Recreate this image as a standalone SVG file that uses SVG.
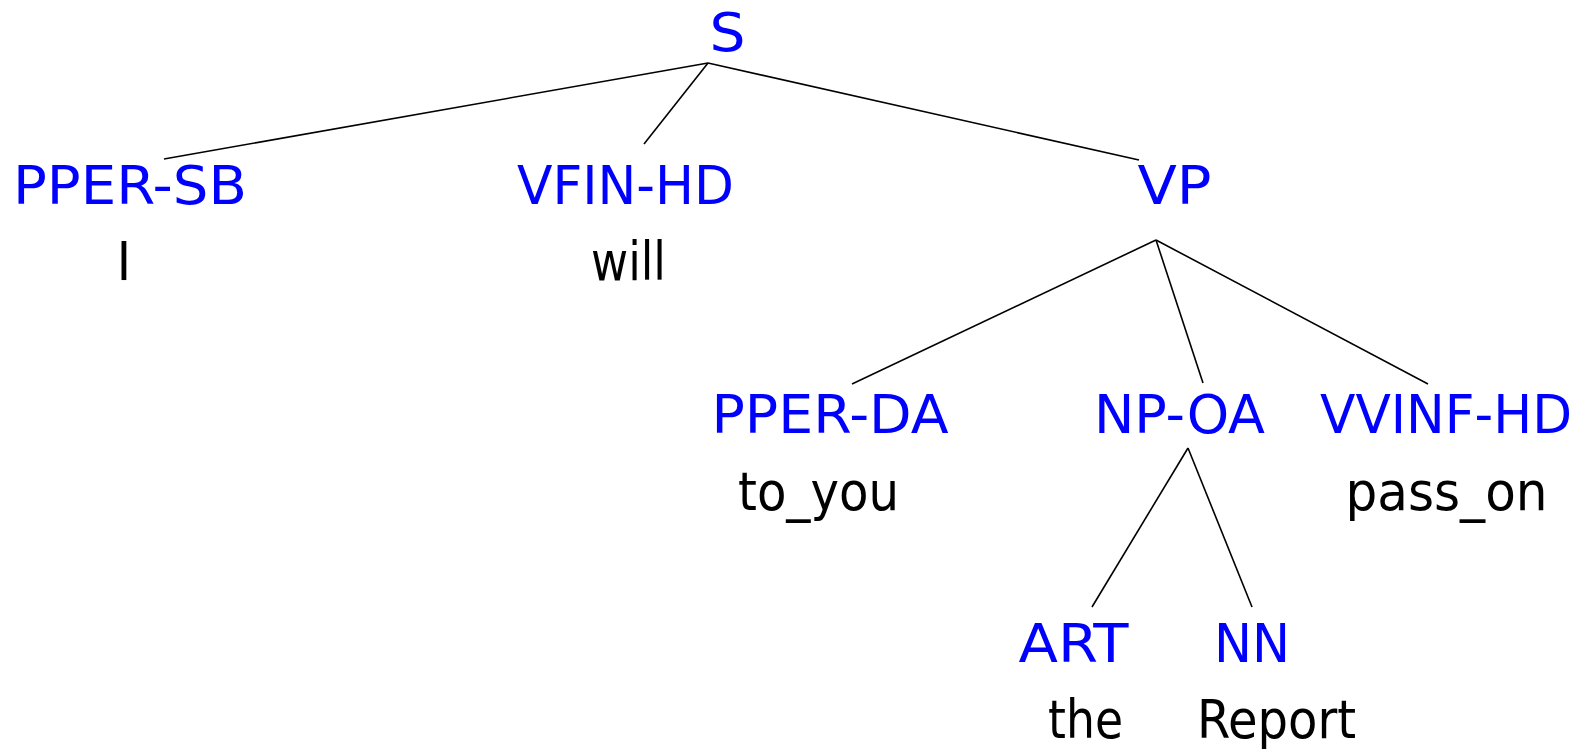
<svg xmlns="http://www.w3.org/2000/svg" width="1578" height="750" viewBox="0 0 1578 750">
<style>
text{font-family:"DejaVu Sans Condensed","DejaVu Sans",sans-serif;font-size:54px;text-anchor:middle}
.cat{fill:#0000ff}
.word{fill:#000000}
.edges line{stroke:#000000;stroke-width:1.6;stroke-linecap:butt}
</style>
<rect width="1578" height="750" fill="#ffffff"/>
<g class="edges" id="connectors">
<line x1="708" y1="63" x2="164" y2="159"/>
<line x1="708" y1="63" x2="644" y2="144"/>
<line x1="708" y1="63" x2="1139" y2="160"/>
<line x1="1156" y1="240" x2="852" y2="384"/>
<line x1="1156" y1="240" x2="1203" y2="383"/>
<line x1="1156" y1="240" x2="1428" y2="384"/>
<line x1="1188" y1="448" x2="1092" y2="607"/>
<line x1="1188" y1="448" x2="1252" y2="607"/>
</g>
<g id="node-S"><text class="cat" x="727.5" y="51" textLength="36" lengthAdjust="spacingAndGlyphs">S</text></g>
<g id="node-PPER-SB"><text class="cat" x="130" y="204" textLength="234" lengthAdjust="spacingAndGlyphs">PPER-SB</text><text class="word" x="124" y="280">I</text></g>
<g id="node-VFIN-HD"><text class="cat" x="625.5" y="204" textLength="217" lengthAdjust="spacingAndGlyphs">VFIN-HD</text><text class="word" x="628.5" y="280" textLength="75" lengthAdjust="spacingAndGlyphs">will</text></g>
<g id="node-VP"><text class="cat" x="1174.5" y="204" textLength="74" lengthAdjust="spacingAndGlyphs">VP</text></g>
<g id="node-PPER-DA"><text class="cat" x="830" y="433" textLength="237" lengthAdjust="spacingAndGlyphs">PPER-DA</text><text class="word" x="818.5" y="510" textLength="161" lengthAdjust="spacingAndGlyphs">to_you</text></g>
<g id="node-NP-OA"><text class="cat" x="1179.5" y="433" textLength="171" lengthAdjust="spacingAndGlyphs">NP-OA</text></g>
<g id="node-VVINF-HD"><text class="cat" x="1446" y="433" textLength="252" lengthAdjust="spacingAndGlyphs">VVINF-HD</text><text class="word" x="1446.5" y="510" textLength="202" lengthAdjust="spacingAndGlyphs">pass_on</text></g>
<g id="node-ART"><text class="cat" x="1073.5" y="662" textLength="110" lengthAdjust="spacingAndGlyphs">ART</text><text class="word" x="1085.5" y="738" textLength="75" lengthAdjust="spacingAndGlyphs">the</text></g>
<g id="node-NN"><text class="cat" x="1252" y="662" textLength="76" lengthAdjust="spacingAndGlyphs">NN</text><text class="word" x="1276.5" y="738" textLength="159" lengthAdjust="spacingAndGlyphs">Report</text></g>
</svg>
